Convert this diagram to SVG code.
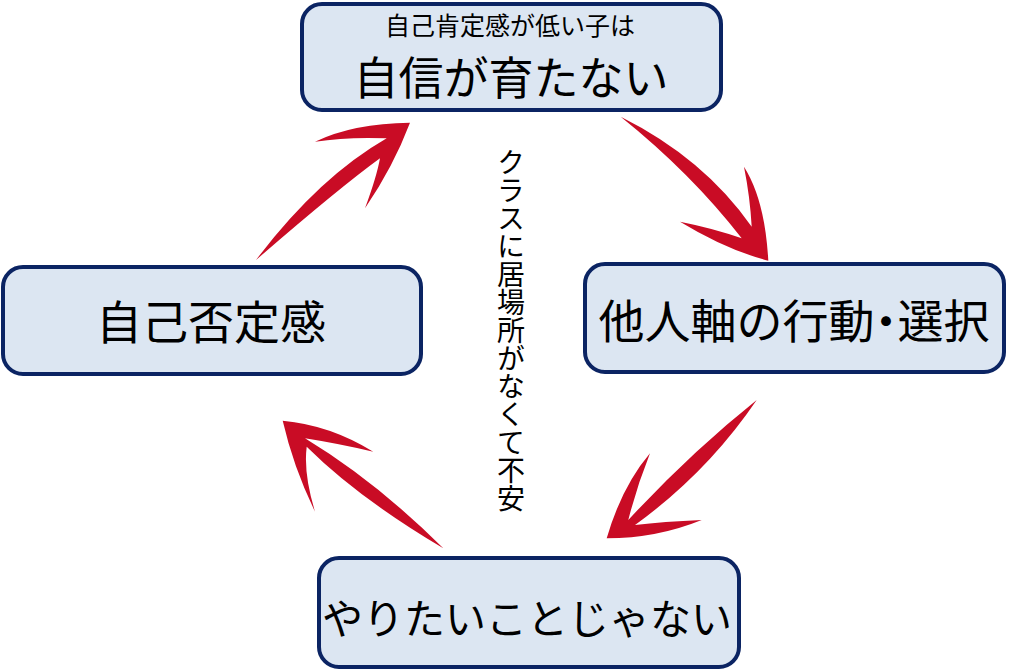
<svg xmlns="http://www.w3.org/2000/svg" width="1024" height="670" viewBox="0 0 1024 670">
<style>
.box{fill:#dce6f2;stroke:#0b2463;stroke-width:4}
.t{font-family:"Noto Sans CJK JP","Noto Sans",sans-serif;fill:#000;text-anchor:middle}
.arr{fill:#c90c25}
</style>
<rect width="1024" height="670" fill="#fff"/>
<g id="connectors">
<path class="arr" d="M256,260 Q318.7,177.3 386.7,138.3 Q346.7,136.7 315,141.7 Q353.3,123.3 410,122.7 Q393.3,166.7 365,208.3 Q376.7,176.7 380,158.3 Q340,187.3 256,260 Z"/>
<path class="arr" d="M620.7,116.7 Q704,158.3 751.7,226.7 Q750,196.7 744,166.7 Q765,200 768.3,260.7 Q726.7,250 680,221.7 Q713.3,228.3 741.7,238.3 Q691.3,173.3 620.7,116.7 Z"/>
<path class="arr" d="M756.7,400 Q690,453.3 628.3,520 Q636.7,486.7 650,453.3 Q621.7,486.7 606.7,538.3 Q656.7,538.3 701.7,520 Q663.3,521.7 635,525 Q707,473 756.7,400 Z"/>
<path class="arr" d="M443.3,548.3 Q376,481.3 305,438.3 Q336.7,443.3 373.3,451.7 Q330,425 282.7,420.7 Q293.3,466.7 315,511.7 Q303.3,473.3 306.7,446.7 Q358.3,498 443.3,548.3 Z"/>
</g>
<g id="node-top">
<rect class="box" x="302" y="4" width="419" height="106" rx="20"/>
<text class="t" x="510" y="35" font-size="25">自己肯定感が低い子は</text>
<text class="t" x="511" y="95" font-size="45">自信が育たない</text>
</g>
<g id="node-left">
<rect class="box" x="3" y="267" width="418" height="107" rx="20"/>
<text class="t" x="211" y="339" font-size="46">自己否定感</text>
</g>
<g id="node-right">
<rect class="box" x="585" y="264" width="419" height="108" rx="20"/>
<text class="t" x="794" y="338" font-size="46">他人軸の行動<tspan style="font-feature-settings:'palt'">・</tspan>選択</text>
</g>
<g id="node-bottom">
<rect class="box" x="319" y="558" width="420" height="109" rx="20"/>
<text class="t" x="527" y="634" font-size="41">やりたいことじゃない</text>
</g>
<g id="center-label">
<text class="t" x="511" y="330" font-size="28" style="writing-mode:vertical-rl">クラスに居場所がなくて不安</text>
</g>
</svg>
